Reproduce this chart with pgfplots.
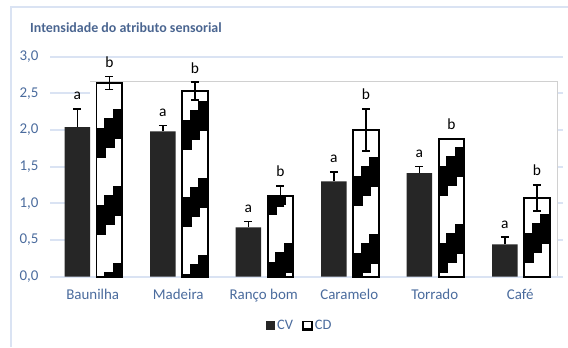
\documentclass[border=0pt]{standalone}
\usepackage{fontspec}
\setmainfont{Carlito}
\usepackage{pgfplots}
\pgfplotsset{compat=1.18}
\definecolor{gridc}{HTML}{DAE3F3}
\definecolor{txtc}{HTML}{4A6B9D}
\definecolor{titc}{HTML}{4A6590}
\definecolor{cvc}{HTML}{262626}
\definecolor{framec}{HTML}{D0D0D0}
\tikzset{cdpic/.style={path picture={
  \begin{scope}[path picture={}, shift={(path picture bounding box.south west)}]
  \foreach \bi/\bp in {0/62,1/70,2/5,3/14,4/24,5/34}{
   \foreach \bk in {-1,0,1,2,3}{
    \pgfmathsetmacro{\xa}{85.5*\bi}
    \pgfmathsetmacro{\ya}{\bp+77*\bk}
    \fill[black, path picture={}] (\xa bp+17.1bp,\ya bp) rectangle (\xa bp+27bp,\ya bp+28bp);
    \fill[black, path picture={}] (\xa bp+8.55bp,\ya bp-9bp) rectangle (\xa bp+17.2bp,\ya bp+19bp);
    \fill[black, path picture={}] (\xa bp-1bp,\ya bp-19bp) rectangle (\xa bp+8.65bp,\ya bp+9bp);
   }
  }
  \end{scope}}}}
\begin{document}
\begin{tikzpicture}[x=1bp,y=1bp]
\path[use as bounding box] (0,0) rectangle (568,347);
\draw[gridc, line width=2.5bp] (11,0) -- (11,340) -- (568,340);
\node[anchor=base west, inner sep=0pt, text=titc, font=\bfseries\fontsize{14}{16}\selectfont] at (30,315) {Intensidade do atributo sensorial};
\begin{axis}[
  at={(50bp,70.4bp)}, anchor=south west,
  scale only axis, width=513bp, height=220bp,
  xmin=-0.5, xmax=5.5, ymin=0, ymax=3,
  axis line style={draw=none},
  major tick length=0pt,
  ymajorgrids, grid style={gridc, line width=2bp},
  ytick={0,0.5,1,1.5,2,2.5,3},
  /pgf/number format/assume math mode=true,
  yticklabel style={/pgf/number format/fixed, /pgf/number format/fixed zerofill, /pgf/number format/precision=1, /pgf/number format/use comma},
  y tick label style={text=txtc, font=\fontsize{15}{17}\selectfont, xshift=-8bp},
  xtick={0,1,2,3,4,5},
  xticklabels={Baunilha, Madeira, Ranço bom, Caramelo, Torrado, Café},
  x tick label style={text=txtc, font=\fontsize{15}{17}\selectfont, yshift=-9bp},
  clip=false,
  legend columns=2,
  legend style={at={(0.487,-0.2245)}, anchor=center, draw=none, fill=none,
    font=\fontsize{14.5}{16}\selectfont, text=txtc,
    /tikz/every even column/.append style={column sep=7bp}},
  errb/.style={draw=none, mark=none, forget plot,
    /pgfplots/error bars/y explicit,
    /pgfplots/error bars/error bar style={black, line width=1.7bp},
    /pgfplots/error bars/error mark options={rotate=90, black, line width=1.7bp, mark size=4bp}},
]
\fill[white] (axis cs:-0.032,0) rectangle (axis cs:5.43,2.66);
\draw[framec, line width=1bp] (axis cs:-0.032,2.66) -- (axis cs:5.43,2.66) -- (axis cs:5.43,0);
\draw[gridc, line width=2bp] (axis cs:-0.5,0) -- (axis cs:5.5,0);

\addplot[ybar, bar width=0.30, bar shift=-0.18, fill=cvc, draw=none,
  legend image code/.code={\fill[cvc] (0bp,-4.5bp) rectangle (9bp,4.5bp);}]
coordinates {(0,2.04) (1,1.98) (2,0.67) (3,1.30) (4,1.41) (5,0.44)};
\addlegendentry{CV}
\addplot[errb, /pgfplots/error bars/y dir=plus]
coordinates {
 (-0.18,2.04) +- (0,0.25)
 (0.82,1.98) +- (0,0.08)
 (1.82,0.67) +- (0,0.08)
 (2.82,1.30) +- (0,0.13)
 (3.82,1.41) +- (0,0.09)
 (4.82,0.44) +- (0,0.10)
};
\addplot[ybar, bar width=0.30, bar shift=0.195, fill=white, draw=black, line width=1.8bp, cdpic,
  legend image code/.code={\fill[black, path picture={}] (0bp,-4.5bp) rectangle (9bp,4.5bp); \fill[white, path picture={}] (2bp,-1bp) rectangle (7bp,3bp);}]
coordinates {(0,2.64) (1,2.53) (2,1.10) (3,2.00) (4,1.88) (5,1.07)};
\addlegendentry{CD}
\addplot[errb, /pgfplots/error bars/y dir=both]
coordinates {
 (0.195,2.64) +- (0,0.09)
 (1.195,2.53) +- (0,0.12)
 (2.195,1.10) +- (0,0.14)
 (3.195,2.00) +- (0,0.29)
 (5.195,1.07) +- (0,0.18)
};
\addplot[draw=none, mark=none, forget plot, nodes near coords, point meta=explicit symbolic,
  nodes near coords style={anchor=base, yshift=9bp, inner sep=0pt, text=black, font=\fontsize{15.5}{17}\selectfont}]
coordinates {
 (-0.18,2.29)[a] (0.82,2.06)[a] (1.82,0.75)[a] (2.82,1.43)[a] (3.82,1.50)[a] (4.82,0.54)[a]
 (0.195,2.73)[b] (1.195,2.65)[b] (2.195,1.24)[b] (3.195,2.29)[b] (4.195,1.88)[b] (5.195,1.25)[b]
};
\end{axis}
\end{tikzpicture}
\end{document}
